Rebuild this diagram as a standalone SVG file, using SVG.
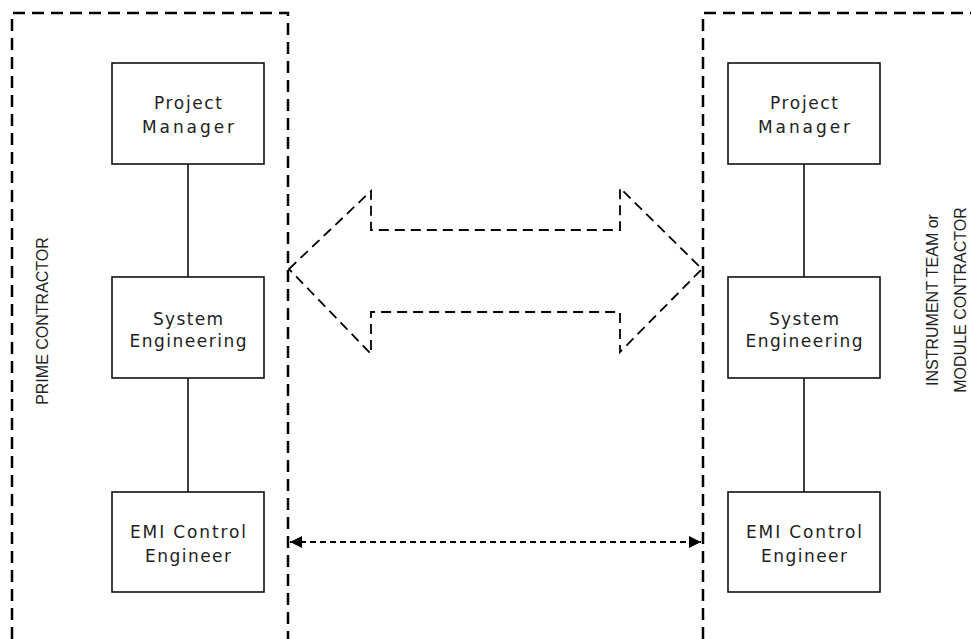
<svg xmlns="http://www.w3.org/2000/svg" width="971" height="639" viewBox="0 0 971 639">
<style>
.bg{fill:#fff}
.org{fill:none;stroke:#000;stroke-width:2.5;stroke-dasharray:12 7}
.box{fill:#fff;stroke:#111;stroke-width:1.6}
.t{font-family:"DejaVu Sans",sans-serif;font-size:17px;fill:#222;text-anchor:middle}
.lab{font-family:"Liberation Sans",Arial,sans-serif;font-size:16px;fill:#222;text-anchor:middle}
.ln{stroke:#111;stroke-width:1.6;fill:none}
.big{fill:none;stroke:#000;stroke-width:1.8;stroke-dasharray:10 6}
.da{fill:none;stroke:#000;stroke-width:2.2;stroke-dasharray:6 4}
</style>
<defs>
<marker id="ah" viewBox="0 0 10 10" refX="10" refY="5" markerWidth="16" markerHeight="12" markerUnits="userSpaceOnUse" orient="auto-start-reverse">
<path d="M0,0 L10,5 L0,10 z" fill="#000"/>
</marker>
</defs>
<rect class="bg" x="0" y="0" width="971" height="639"/>
<g id="prime-contractor">
<path class="org" d="M12,639 V13 H288 V639"/>
<text class="lab" transform="translate(48,321) rotate(-90)">PRIME CONTRACTOR</text>
</g>
<g id="instrument-team">
<path class="org" d="M703,639 V13 H971"/>
<text class="lab" transform="translate(938,300) rotate(-90)">INSTRUMENT TEAM or</text>
<text class="lab" transform="translate(966,300) rotate(-90)">MODULE CONTRACTOR</text>
</g>
<g id="connectors">
<line class="ln" x1="188" y1="164" x2="188" y2="277"/>
<line class="ln" x1="188" y1="378" x2="188" y2="492"/>
<line class="ln" x1="804" y1="164" x2="804" y2="277"/>
<line class="ln" x1="804" y1="378" x2="804" y2="492"/>
<path class="big" d="M289,269 L371,191 V230 H620 V188 L702,269 L620,352 V312 H371 V354 Z"/>
<line class="da" x1="290" y1="542" x2="701" y2="542" marker-start="url(#ah)" marker-end="url(#ah)"/>
</g>
<g id="pm-left">
<rect class="box" x="112" y="63" width="152" height="101"/>
<text class="t" x="188" y="109" textLength="68" lengthAdjust="spacing">Project</text>
<text class="t" x="188" y="133" textLength="92" lengthAdjust="spacing">Manager</text>
</g>
<g id="se-left">
<rect class="box" x="112" y="277" width="152" height="101"/>
<text class="t" x="188" y="325" textLength="70" lengthAdjust="spacing">System</text>
<text class="t" x="188" y="347" textLength="117" lengthAdjust="spacing">Engineering</text>
</g>
<g id="emi-left">
<rect class="box" x="112" y="492" width="152" height="100"/>
<text class="t" x="188" y="538" textLength="116" lengthAdjust="spacing">EMI Control</text>
<text class="t" x="188" y="562" textLength="86" lengthAdjust="spacing">Engineer</text>
</g>
<g id="pm-right">
<rect class="box" x="728" y="63" width="152" height="101"/>
<text class="t" x="804" y="109" textLength="68" lengthAdjust="spacing">Project</text>
<text class="t" x="804" y="133" textLength="92" lengthAdjust="spacing">Manager</text>
</g>
<g id="se-right">
<rect class="box" x="728" y="277" width="152" height="101"/>
<text class="t" x="804" y="325" textLength="70" lengthAdjust="spacing">System</text>
<text class="t" x="804" y="347" textLength="117" lengthAdjust="spacing">Engineering</text>
</g>
<g id="emi-right">
<rect class="box" x="728" y="492" width="152" height="100"/>
<text class="t" x="804" y="538" textLength="116" lengthAdjust="spacing">EMI Control</text>
<text class="t" x="804" y="562" textLength="86" lengthAdjust="spacing">Engineer</text>
</g>
</svg>
